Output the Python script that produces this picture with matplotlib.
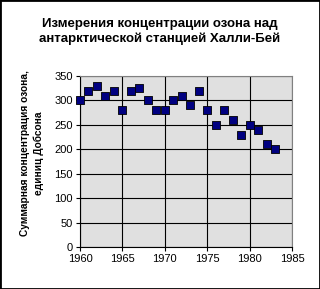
import matplotlib
matplotlib.use('Agg')
import matplotlib.pyplot as plt
from matplotlib.patches import Rectangle

plt.rcParams['font.family'] = ['Liberation Sans', 'DejaVu Sans']

years = [1960, 1961, 1962, 1963, 1964, 1965, 1966, 1967, 1968, 1969, 1970, 1971,
         1972, 1973, 1974, 1975, 1976, 1977, 1978, 1979, 1980, 1981, 1982, 1983]
ozone = [300, 320, 330, 310, 320, 280, 320, 325, 300, 280, 280, 300,
         310, 290, 320, 280, 250, 280, 260, 230, 250, 240, 210, 200]

title = 'Измерения концентрации озона над\nантарктической станцией Халли-Бей'
ylabel = 'Суммарная концентрация озона,\nединиц Добсона'

fig = plt.figure(figsize=(3.2, 2.89), dpi=100)
ax = fig.add_axes([0.25, 0.1453, 0.6625, 0.5917])
ax.set_facecolor('#e0e0e0')

ax.scatter(years, ozone, marker='s', s=26, color='#000080', edgecolors='black',
           linewidths=0.6, zorder=3, clip_on=False)

ax.set_xlim(1960, 1985)
ax.set_ylim(0, 350)
ax.set_xticks(range(1960, 1986, 5))
ax.set_yticks(range(0, 351, 50))
ax.grid(True, color='black', linewidth=0.8)
ax.set_axisbelow(True)

for s in ['top', 'right']:
    ax.spines[s].set_color('#808080')
for s in ['left', 'bottom']:
    ax.spines[s].set_color('black')
ax.tick_params(direction='out', length=3, width=0.8, labelsize=8, pad=2)

fig.text(0.5, 0.892, title, ha='center', va='center', fontsize=9.5,
         fontweight='bold', linespacing=1.3)
fig.text(0.1, 0.47, ylabel, ha='center', va='center', rotation=90,
         fontsize=7.3, fontweight='bold', linespacing=1.4)

fig.patches.append(Rectangle((0, 0), 1, 1, transform=fig.transFigure,
                             fill=False, edgecolor='black', linewidth=2))

fig.savefig('out.png', dpi=100)
